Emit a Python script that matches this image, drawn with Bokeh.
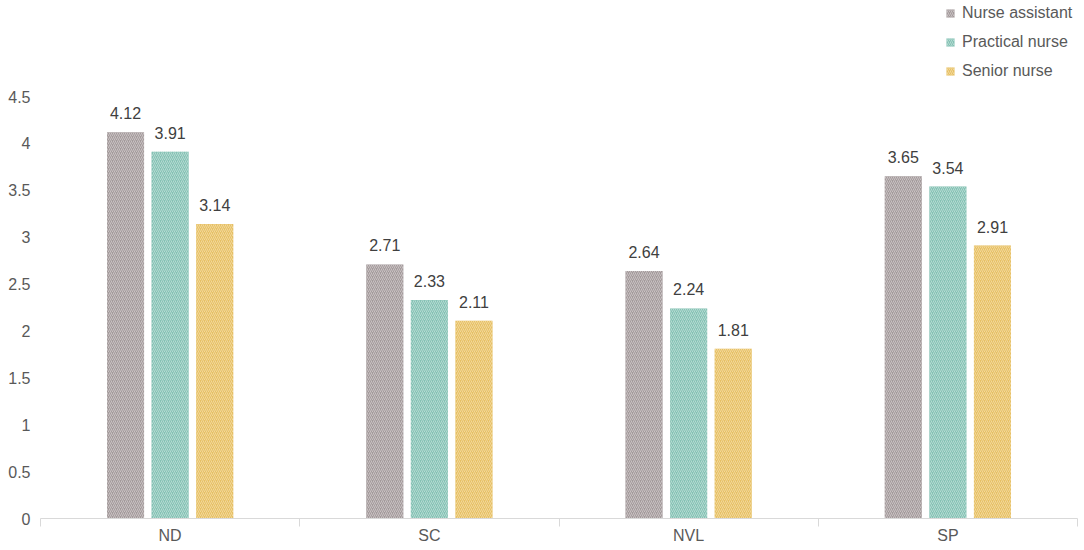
import numpy as np
from bokeh.plotting import figure
from bokeh.models import Range1d, FixedTicker, ColumnDataSource, Legend, LegendItem
from bokeh.transform import dodge
from bokeh.core.properties import value
from bokeh.embed import file_html
from bokeh.resources import INLINE

categories = ["ND", "SC", "NVL", "SP"]
nurse_assistant = [4.12, 2.71, 2.64, 3.65]
practical_nurse = [3.91, 2.33, 2.24, 3.54]
senior_nurse = [3.14, 2.11, 1.81, 2.91]
series_names = ["Nurse assistant", "Practical nurse", "Senior nurse"]
y_ticks = [0, 0.5, 1, 1.5, 2, 2.5, 3, 3.5, 4, 4.5]

colors = ["#a39a9b", "#85c1b4", "#e6c065"]
hatch_colors = ["#c9c2c3", "#b4dbd2", "#f2d89a"]
FONT = "Liberation Sans"
FS = "16px"

xc = np.arange(len(categories)) + 0.5
src = ColumnDataSource(dict(
    x=xc,
    na=nurse_assistant, pn=practical_nurse, sn=senior_nurse,
    na_t=[f"{v:.2f}" for v in nurse_assistant],
    pn_t=[f"{v:.2f}" for v in practical_nurse],
    sn_t=[f"{v:.2f}" for v in senior_nurse],
))

p = figure(frame_width=1037, frame_height=518, output_backend="svg", toolbar_location=None,
           x_range=Range1d(0, len(categories)), y_range=Range1d(0, 5.524),
           min_border_left=40, min_border_right=7, min_border_top=0, min_border_bottom=32)
p.outline_line_color = None
p.xgrid.visible = False
p.ygrid.visible = False
p.background_fill_color = "white"

offsets = [-0.172, 0.0, 0.172]
keys = ["na", "pn", "sn"]
items = []
for k, off, c, hc, name in zip(keys, offsets, colors, hatch_colors, series_names):
    r = p.vbar(x=dodge("x", off, range=p.x_range), top=k, width=0.143, bottom=0, source=src,
               fill_color=c, line_color=None, hatch_pattern="/", hatch_color=hc,
               hatch_scale=4, hatch_weight=1)
    p.text(x=dodge("x", off, range=p.x_range), y=k, text=k + "_t", source=src,
           text_align="center", text_baseline="middle", y_offset=-19,
           text_font=value(FONT), text_font_size=FS, text_color="#404040")
    items.append(LegendItem(label=name, renderers=[r]))

legend = Legend(items=items, location=(905, 437), padding=0, margin=0,
                glyph_width=10, glyph_height=10, label_standoff=7, spacing=9,
                label_height=20, border_line_color=None, background_fill_alpha=0,
                label_text_font=FONT, label_text_font_size=FS, label_text_color="#595959")
p.add_layout(legend)

xa = p.xaxis[0]
xa.ticker = FixedTicker(ticks=list(xc), minor_ticks=list(range(len(categories) + 1)))
xa.major_label_overrides = {float(x): c for x, c in zip(xc, categories)}
xa.major_tick_out = 0
xa.major_tick_in = 0
xa.minor_tick_out = 8
xa.minor_tick_in = 0
xa.minor_tick_line_color = "#d9d9d9"
xa.axis_line_color = "#d9d9d9"
xa.major_label_standoff = 0
xa.major_label_text_font = FONT
xa.major_label_text_font_size = FS
xa.major_label_text_color = "#595959"

ya = p.yaxis[0]
ya.ticker = FixedTicker(ticks=y_ticks, minor_ticks=[])
ya.major_label_overrides = {float(t): f"{t:g}" for t in y_ticks}
ya.axis_line_color = None
ya.major_tick_line_color = None
ya.minor_tick_line_color = None
ya.major_tick_out = 0
ya.major_tick_in = 0
ya.major_label_standoff = 10
ya.major_label_text_font = FONT
ya.major_label_text_font_size = FS
ya.major_label_text_color = "#595959"

open("out.html", "w").write(file_html(p, INLINE))
